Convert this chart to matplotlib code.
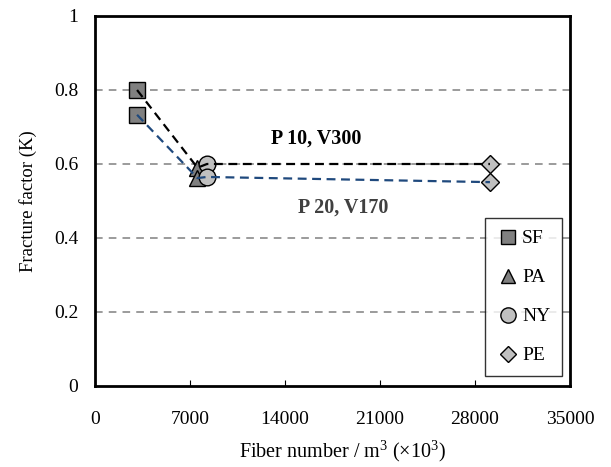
import matplotlib
matplotlib.use('Agg')
import matplotlib.pyplot as plt
from matplotlib.lines import Line2D

plt.rcParams['font.family'] = ['Liberation Serif', 'DejaVu Serif']
plt.rcParams['mathtext.fontset'] = 'custom'
plt.rcParams['mathtext.rm'] = 'Liberation Serif'

# fiber number per m3 (x10^3)
fibers = ['SF', 'PA', 'NY', 'PE']
fiber_num = [3100, 7550, 8250, 29100]
k_p10 = [0.80, 0.59, 0.60, 0.60]    # P 10, V300
k_p20 = [0.733, 0.562, 0.565, 0.551]  # P 20, V170

mk = {'SF': 's', 'PA': '^', 'NY': 'o', 'PE': 'D'}
fc = {'SF': '#808080', 'PA': '#808080', 'NY': '#c0c0c0', 'PE': '#c0c0c0'}
ms = {'SF': 11, 'PA': 11, 'NY': 12, 'PE': 9}

fig = plt.figure(figsize=(6.11, 4.67), dpi=100)
ax = fig.add_axes([95/611, 1-386/467, 475/611, 370/467])

for i, f in enumerate(fibers):
    ax.plot([fiber_num[i]]*2, [k_p10[i], k_p20[i]], linestyle='none',
            marker=mk[f], markersize=ms[f], markerfacecolor=fc[f],
            markeredgecolor='black', markeredgewidth=1, zorder=3)

ax.plot(fiber_num, k_p10, '--', color='black', lw=1.6, dashes=(4, 2.5), zorder=4)
ax.plot(fiber_num, k_p20, '--', color='#1f497d', lw=1.6, dashes=(4, 2.5), zorder=4)

ax.text(16300, 0.67, 'P 10, V300', fontsize=14.5, fontweight='bold',
        color='black', ha='center', va='center')
ax.text(18300, 0.481, 'P 20, V170', fontsize=14.5, fontweight='bold',
        color='#404040', ha='center', va='center')

ax.set_xlim(0, 35000)
ax.set_ylim(0, 1)
ax.set_xticks(range(0, 35001, 7000))
ax.set_yticks([0, 0.2, 0.4, 0.6, 0.8, 1])
ax.set_yticklabels(['0', '0.2', '0.4', '0.6', '0.8', '1'])
ax.tick_params(direction='in', labelsize=14, length=4, width=0.8)
ax.tick_params(axis='x', pad=18)
ax.tick_params(axis='y', length=0, pad=12)

for y in [0.2, 0.4, 0.6, 0.8]:
    ax.axhline(y, color='#808080', ls='--', lw=1.1, dashes=(5, 4), zorder=1)

for s in ax.spines.values():
    s.set_linewidth(2)

ax.set_xlabel(r'Fiber number / m$^3$ (×10$^3$)', fontsize=14.5)
ax.xaxis.set_label_coords(0.52, -0.142)
ax.set_ylabel('Fracture factor (K)', fontsize=13.5, labelpad=12)

handles = [Line2D([], [], linestyle='none', marker=mk[f], markersize=ms[f] - 1,
                  markerfacecolor=fc[f], markeredgecolor='black', label=f)
           for f in fibers]
leg = ax.legend(handles=handles, loc='lower right', fontsize=14,
                frameon=True, fancybox=False, edgecolor='black',
                labelspacing=1.1, handletextpad=0.1, handlelength=1.2,
                borderpad=0.6, borderaxespad=0, bbox_to_anchor=(0.983, 0.027))
leg.get_frame().set_linewidth(1)

fig.savefig('out.png', dpi=100)
